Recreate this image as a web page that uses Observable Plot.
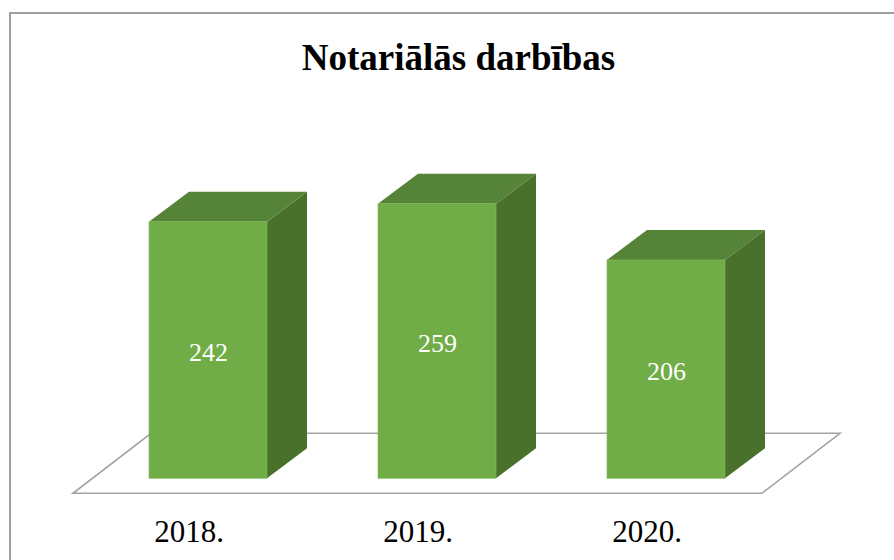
<!DOCTYPE html>
<html>
<head>
<meta charset="utf-8">
<script src="https://cdn.jsdelivr.net/npm/d3@7"></script>
<script src="https://cdn.jsdelivr.net/npm/@observablehq/plot@0.6"></script>
<style>
  html, body { margin: 0; padding: 0; background: #fff; }
  #wrap { position: relative; width: 894px; height: 560px; overflow: hidden; }
  #border { position: absolute; left: 9px; top: 12px; width: 900px; height: 600px;
            border-top: 2px solid #a0a0a0; border-left: 2px solid #a0a0a0; pointer-events: none; }
  #chart svg { display: block; }
</style>
</head>
<body>
<div id="wrap"><div id="chart"></div><div id="border"></div></div>
<script>
const title = "Notariālās darbības";
const years = ["2018.", "2019.", "2020."];
const values = [242, 259, 206];

const data = years.map((year, i) => ({year, value: values[i]}));

const FRONT = "#70ad47", TOP = "#558337", SIDE = "#4a712c";
const BAR_DX = 40, BAR_DY = -30;       // bar depth
const FLOOR_DX = 78, FLOOR_DY = -60;   // floor depth
const ns = "http://www.w3.org/2000/svg";

function bw(x) { return typeof x.bandwidth === "function" ? x.bandwidth() : x.bandwidth; }
function poly(g, pts, fill, stroke, sw) {
  const p = document.createElementNS(ns, "polygon");
  p.setAttribute("points", pts.map(d => d.join(",")).join(" "));
  p.setAttribute("fill", fill);
  if (stroke) { p.setAttribute("stroke", stroke); p.setAttribute("stroke-width", sw); p.setAttribute("stroke-linejoin", "miter"); }
  g.appendChild(p);
}

// floor plane: the bar fronts sit a quarter of the way into it
function floorMark(index, scales) {
  const x = scales.x, y = scales.y;
  const [r0, r1] = x.range();
  const y0 = y(0);
  const fx = FLOOR_DX / 4, fy = FLOOR_DY / 4;
  const g = document.createElementNS(ns, "g");
  const a = [r0 - fx, y0 - fy], b = [r1 - fx, y0 - fy];
  poly(g, [a, b, [b[0] + FLOOR_DX, b[1] + FLOOR_DY], [a[0] + FLOOR_DX, a[1] + FLOOR_DY]], "white", "#a3a3a3", 1.6);
  return g;
}

function facesMark(index, scales) {
  const x = scales.x, y = scales.y;
  const w = bw(x);
  const g = document.createElementNS(ns, "g");
  data.forEach(d => {
    const x0 = x(d.year), x1 = x0 + w, yt = y(d.value), y0 = y(0);
    poly(g, [[x1, yt], [x1 + BAR_DX, yt + BAR_DY], [x1 + BAR_DX, y0 + BAR_DY], [x1, y0]], SIDE);
    poly(g, [[x0, yt], [x0 + BAR_DX, yt + BAR_DY], [x1 + BAR_DX, yt + BAR_DY], [x1, yt]], TOP);
  });
  return g;
}

const serif = "'Liberation Serif', 'Times New Roman', serif";

const chart = Plot.plot({
  width: 894,
  height: 560,
  marginLeft: 92.5,
  marginRight: 112.5,
  marginTop: 160.3,
  marginBottom: 81.7,
  style: {background: "transparent", fontFamily: serif},
  x: {domain: years, paddingInner: 0.484, paddingOuter: 0.242, label: null},
  y: {domain: [0, 300], axis: null},
  marks: [
    floorMark,
    facesMark,
    Plot.barY(data, {x: "year", y: "value", fill: FRONT, stroke: "#82bb5c", strokeWidth: 0.6}),
    Plot.text(data, {x: "year", y: d => d.value / 2, text: d => String(d.value), fill: "white",
      fontSize: 26, fontFamily: serif, dy: 2}),
    Plot.axisX({tickSize: 0, tickPadding: 41, fontSize: 31, fontFamily: serif, fill: "black", dx: -19.5, label: null}),
    Plot.text([title], {text: d => d, frameAnchor: "top", lineAnchor: "bottom", dy: 69 - 160.3, dx: 21,
      fontSize: 37, fontWeight: "bold", fontFamily: serif, fill: "black"})
  ]
});
document.getElementById("chart").appendChild(chart);
</script>
</body>
</html>
